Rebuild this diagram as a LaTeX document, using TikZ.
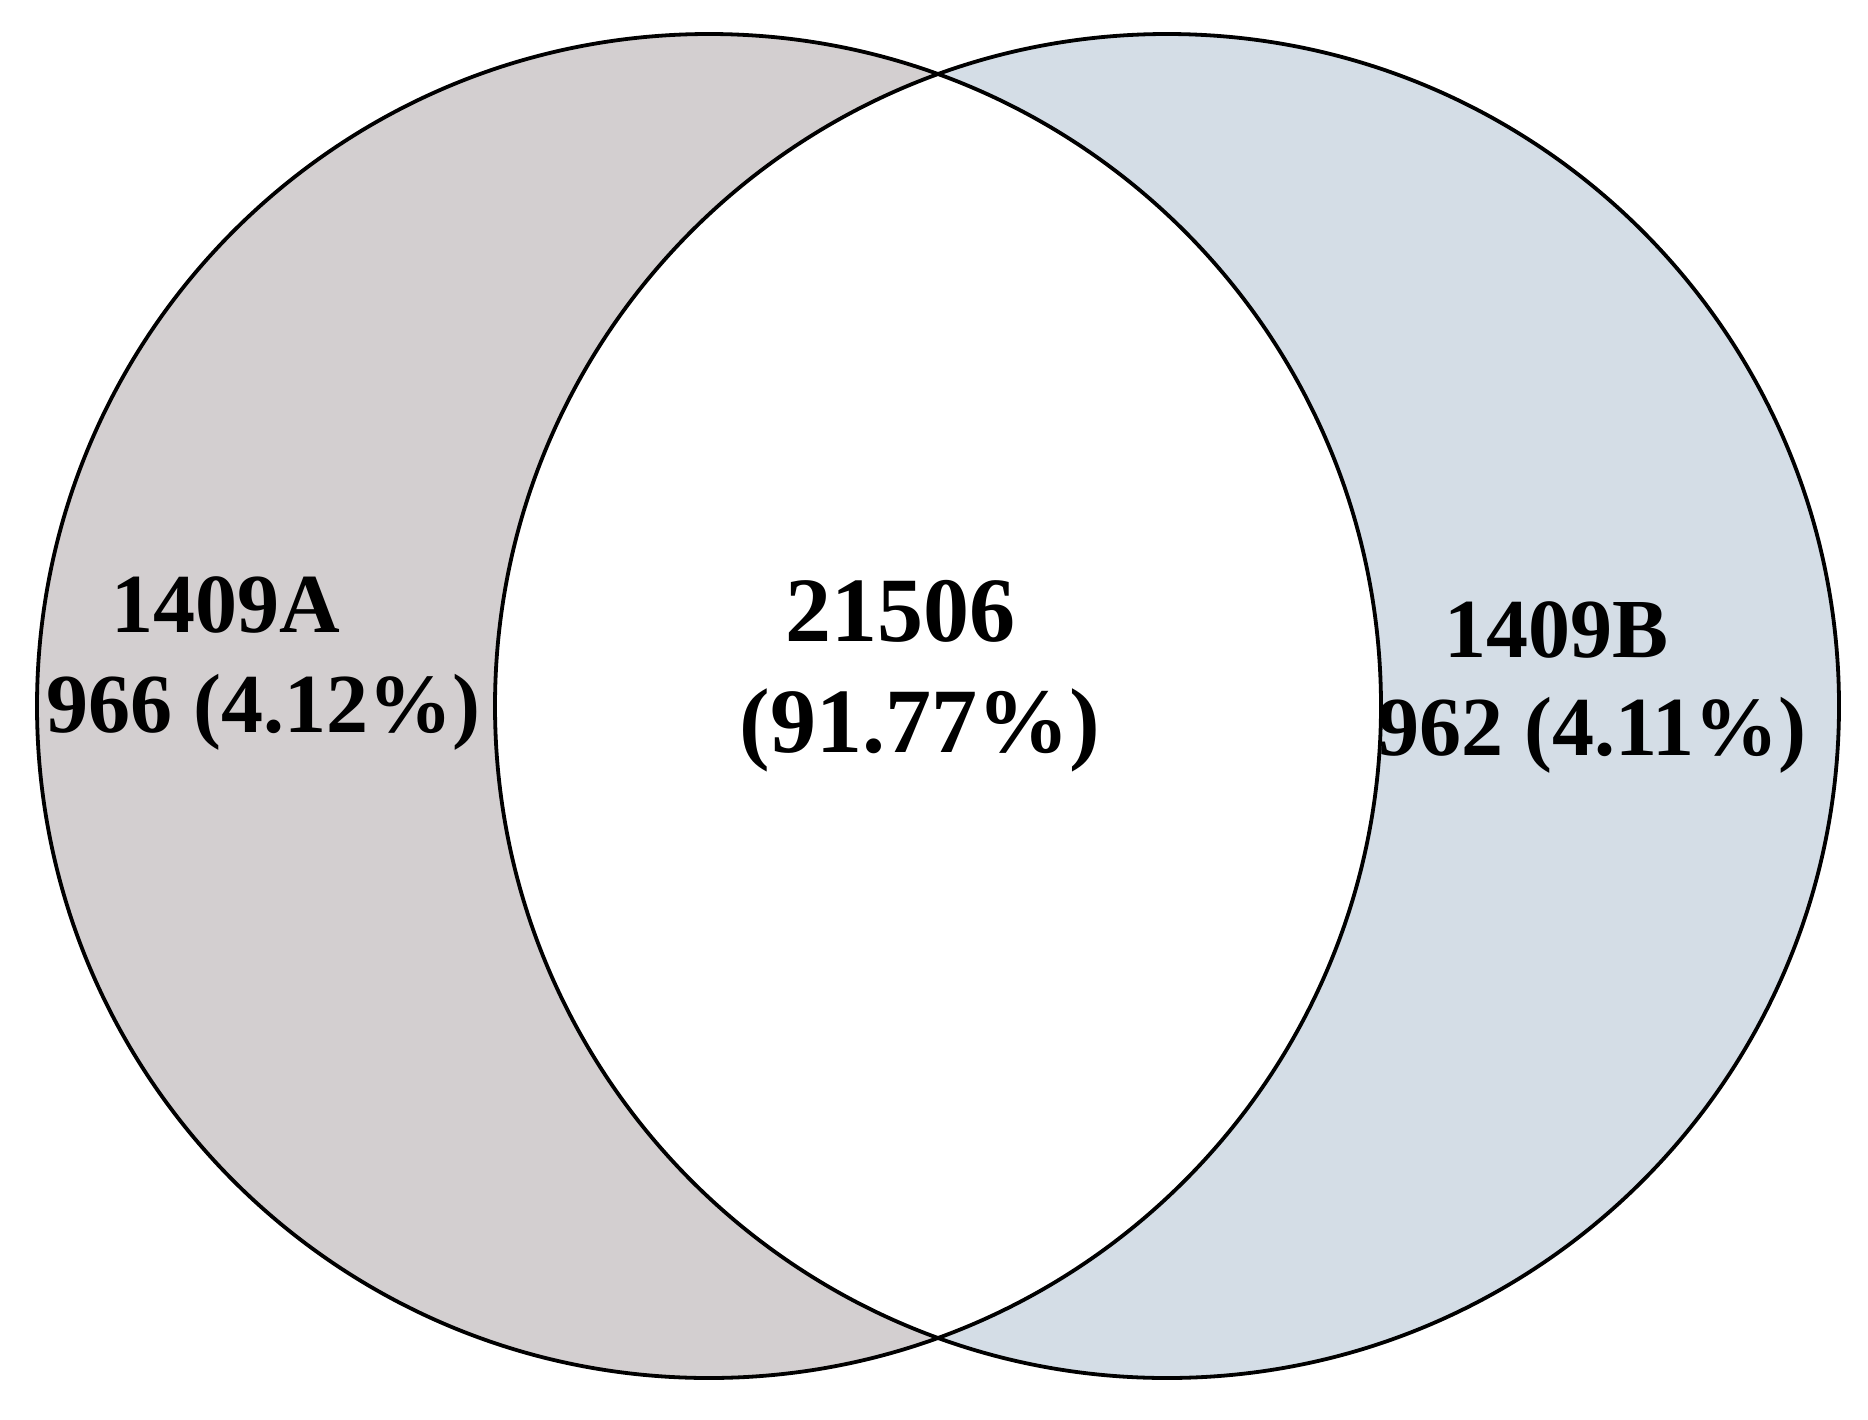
\documentclass[tikz,border=0pt]{standalone}
\usepackage{fontspec}
\setmainfont{Liberation Serif}
\definecolor{setA}{RGB}{211,207,208}
\definecolor{setB}{RGB}{212,221,230}
\tikzset{
  lab/.style={anchor=base, inner sep=0pt, font=\fontsize{42}{50}\selectfont\bfseries},
  biglab/.style={anchor=base, inner sep=0pt, font=\fontsize{46}{55}\selectfont\bfseries},
  outline/.style={draw=black, line width=1.9pt}
}
\begin{document}
\begin{tikzpicture}[x=0.5pt,y=-0.5pt]
\useasboundingbox (0,0) rectangle (1868,1419);
\coordinate (cA) at (709,706);
\coordinate (cB) at (1167,706);
\def\rad{672}
\fill[setA] (cA) circle[radius=\rad];
\fill[setB] (cB) circle[radius=\rad];
\begin{scope}
  \clip (cA) circle[radius=\rad];
  \fill[white] (cB) circle[radius=\rad];
\end{scope}
\draw[outline] (cA) circle[radius=\rad];
\draw[outline] (cB) circle[radius=\rad];
\node[lab] (a1) at (226,632) {1409A};
\node[lab] (a2) at (263,732) {966 (4.12\%)};
\node[biglab] (c1) at (900,641) {21506};
\node[biglab] (c2) at (920,752) {(91.77\%)};
\node[lab] (b1) at (1556,657) {1409B};
\node[lab] (b2) at (1592,755) {962 (4.11\%)};
\end{tikzpicture}
\end{document}
